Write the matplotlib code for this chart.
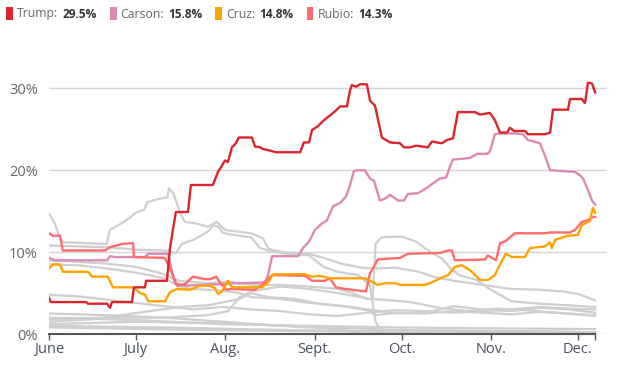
import numpy as np
import matplotlib
matplotlib.use("Agg")
import matplotlib.pyplot as plt
from matplotlib.patches import Rectangle

plt.rcParams['font.family'] = ['Open Sans', 'DejaVu Sans']

# days since June 1 2015, poll average in %
trump_x = [0, 0.7, 12.8, 13.5, 20.1, 21.1, 21.8, 28.7, 29.4, 33.2, 33.6, 40.8, 41.9, 43.9, 48.1, 49.1,
           56.7, 58.5, 59.9, 60.9, 61.9, 63.3, 64.7, 65.7, 70.2, 71.3, 73.0, 74.0, 76.5, 78.5, 86.9, 88.2,
           90.0, 91.0, 93.1, 94.5, 95.8, 97.6, 99.3, 100.7, 103.1, 104.2, 104.8, 106.2, 107.6, 110.0,
           111.1, 112.8, 115.2, 118.0, 121.5, 122.8, 124.9, 127.0, 131.1, 132.5, 136.0, 137.7, 139.8,
           141.5, 147.4, 149.1, 152.6, 154.3, 156.1, 158.5, 159.5, 160.9, 164.7, 165.7, 171.6, 173.4,
           174.4, 179.6, 180.3, 184.4, 185.5, 186.5, 187.9, 189]
trump_y = [4.4, 3.9, 3.9, 3.7, 3.7, 3.2, 3.9, 3.9, 5.7, 5.7, 6.5, 6.5, 10.6, 14.9, 14.9, 18.2,
           18.2, 19.8, 20.6, 21.2, 21.0, 22.8, 23.3, 24.0, 24.0, 22.9, 22.8, 22.6, 22.4, 22.2, 22.2, 23.4,
           23.4, 24.9, 25.4, 25.9, 26.3, 26.8, 27.3, 27.8, 27.8, 29.8, 30.4, 30.2, 30.5, 30.5,
           28.5, 27.9, 24.0, 23.4, 23.3, 22.8, 22.8, 23.0, 22.8, 23.5, 23.3, 23.7, 23.9,
           27.1, 27.1, 26.8, 27.0, 26.1, 24.6, 24.6, 25.2, 24.8, 24.8, 24.4, 24.4, 24.6,
           27.4, 27.4, 28.7, 28.7, 28.2, 30.7, 30.6, 29.5]

carson_x = [0, 2.1, 20.1, 21.1, 22.8, 33.2, 34.3, 41.2, 42.2, 43.6, 47.1, 52.2, 60.9, 63.7, 66.1, 74.7,
            75.8, 77.2, 86.2, 87.9, 90.0, 92.0, 94.1, 96.2, 98.3, 100.7, 102.8, 104.2, 105.5, 106.6,
            109.3, 111.1, 112.5, 114.5, 116.6, 118.0, 120.8, 122.8, 124.2, 127.7, 130.1, 132.9, 135.3,
            137.4, 138.8, 139.8, 145.7, 148.1, 151.6, 152.6, 154.3, 156.1, 161.2, 164.0, 165.7, 169.9,
            171.6, 173.4, 182.0, 183.7, 184.8, 186.5, 187.9, 189]
carson_y = [9.3, 9.0, 9.0, 9.5, 9.4, 9.4, 9.8, 9.8, 8.2, 6.2, 5.9, 6.0, 6.1, 6.2, 6.2, 6.3,
            7.2, 9.5, 9.5, 10.5, 11.3, 12.7, 13.4, 13.9, 15.6, 16.0, 16.8, 18.2, 19.9, 20.0,
            20.0, 19.0, 18.7, 16.3, 16.6, 17.0, 16.3, 16.3, 17.1, 17.2, 17.7, 18.4, 19.0,
            19.1, 20.5, 21.3, 21.5, 22.0, 22.0, 22.3, 24.4, 24.5, 24.5, 24.4, 23.7, 23.3,
            21.8, 20.0, 19.8, 19.4, 19.0, 17.6, 16.3, 15.8]

cruz_x = [0, 1.4, 3.8, 4.8, 13.5, 14.9, 20.4, 22.1, 29.1, 31.5, 33.2, 34.3, 40.1, 41.9, 44.3, 48.8,
          52.2, 55.7, 57.4, 58.5, 59.9, 61.9, 63.3, 73.7, 75.8, 77.5, 88.6, 91.0, 93.8, 97.2, 109.3,
          111.1, 113.8, 116.3, 119.7, 121.5, 130.1, 132.5, 135.3, 138.1, 140.5, 142.9, 145.7, 147.8,
          149.1, 151.9, 154.3, 156.1, 158.1, 160.2, 164.7, 166.4, 171.6, 173.4, 174.0, 175.1, 179.6,
          183.0, 184.4, 187.2, 188.2, 189]
cruz_y = [8.0, 8.5, 8.5, 7.6, 7.6, 7.0, 7.0, 5.7, 5.7, 5.0, 4.8, 4.0, 4.0, 5.1, 5.5, 5.4,
          5.9, 5.9, 5.6, 4.9, 5.2, 6.5, 5.7, 5.7, 6.3, 7.3, 7.3, 7.0, 7.1, 6.8, 6.8,
          6.5, 6.0, 6.2, 6.2, 6.0, 6.0, 6.3, 6.8, 7.2, 8.2, 8.4, 7.8, 7.1,
          6.6, 6.6, 7.2, 8.5, 9.8, 9.4, 9.4, 10.5, 10.7, 11.2, 10.5, 11.5, 12.0,
          12.1, 13.3, 13.8, 15.4, 14.8]

rubio_x = [0, 1.4, 3.8, 4.8, 19.4, 21.1, 25.3, 29.1, 29.4, 40.1, 41.9, 44.3, 47.1, 49.8, 54.0, 55.7,
           57.8, 59.2, 61.2, 63.3, 71.3, 73.7, 75.8, 77.2, 88.6, 91.0, 95.5, 97.2, 99.3, 102.4, 109.7,
           111.1, 113.8, 121.5, 124.2, 135.3, 138.1, 139.4, 140.5, 150.9, 151.9, 153.3, 154.7, 156.1,
           157.8, 159.5, 161.2, 171.6, 173.4, 180.3, 182.0, 184.4, 186.5, 188.2, 189]
rubio_y = [12.3, 12.0, 12.0, 10.2, 10.2, 10.6, 11.0, 11.1, 9.4, 9.3, 8.0, 5.9, 6.1, 7.0, 6.7, 6.7,
           7.0, 6.3, 5.4, 5.5, 5.4, 6.0, 6.7, 7.2, 7.1, 6.5, 6.5, 6.8, 5.7, 5.5, 5.2,
           7.4, 9.1, 9.3, 9.8, 9.9, 10.2, 10.2, 9.0, 9.1, 9.6, 9.3, 9.0, 11.1,
           11.3, 11.8, 12.3, 12.3, 12.4, 12.4, 12.7, 13.7, 13.9, 14.3, 14.3]

# other candidates, drawn in gray
bush_x = [0, 2, 4, 5, 20, 21, 25, 28, 30, 33, 34, 38, 41, 41.5, 43, 44, 45.5, 47, 51, 55, 58, 61, 70, 74,
          76, 81, 90, 96, 101, 108, 113, 120, 128, 133, 140, 150, 160, 170, 178, 183, 189]
bush_y = [14.7, 13.5, 11.5, 11.2, 11.0, 12.7, 13.5, 14.2, 14.8, 15.2, 16.1, 16.5, 16.7, 17.8, 17.2, 16.2,
          14.7, 13.7, 13.5, 13.1, 13.7, 12.7, 12.3, 11.7, 10.4, 10.0, 9.8, 9.2, 8.6, 8.1, 8.0, 8.1, 7.6,
          7.0, 6.5, 6.0, 5.5, 5.4, 5.2, 4.9, 4.1]
walker_x = [0, 20, 30, 40, 44, 46, 50, 55, 57, 59, 60, 62, 70, 73, 76, 82, 90, 95, 100, 107, 111, 113,
            115, 189]
walker_y = [10.8, 10.6, 10.3, 10.2, 9.9, 11.0, 11.5, 12.5, 13.3, 13.0, 12.4, 12.2, 11.8, 10.5, 10.2, 9.8,
            9.6, 8.2, 7.6, 7.2, 6.0, 1.5, 0.4, 0.2]
huckabee_x = [0, 10, 20, 30, 38, 45, 55, 62, 70, 80, 90, 100, 105, 110, 115, 125, 135, 145, 155, 165, 175, 189]
huckabee_y = [9.0, 8.8, 8.6, 8.2, 7.5, 6.5, 6.2, 6.4, 6.0, 6.0, 5.8, 5.5, 5.0, 4.3, 4.2, 3.9, 3.2, 2.8,
              3.1, 2.9, 2.6, 2.2]
paul_x = [0, 10, 20, 30, 40, 45, 50, 60, 66, 70, 80, 90, 100, 110, 113, 120, 130, 140, 150, 160, 170, 180, 189]
paul_y = [8.5, 8.4, 8.0, 7.5, 6.8, 5.8, 5.5, 5.3, 5.0, 4.5, 4.3, 3.8, 3.5, 2.9, 2.3, 2.6, 2.5, 2.8, 2.6,
          2.4, 2.7, 2.5, 2.3]
christie_x = [0, 10, 20, 30, 40, 50, 60, 70, 80, 90, 100, 110, 120, 130, 140, 150, 160, 170, 180, 189]
christie_y = [4.8, 4.6, 4.2, 3.8, 3.4, 3.0, 3.3, 3.0, 2.8, 2.4, 2.2, 2.6, 2.9, 2.8, 2.6, 2.8, 3.0, 3.3,
              3.1, 3.0]
kasich_x = [0, 15, 25, 35, 45, 55, 62, 66, 70, 76, 85, 95, 105, 110, 115, 120, 130, 140, 150, 160, 170, 180, 189]
kasich_y = [1.5, 1.8, 2.3, 2.8, 3.3, 3.5, 4.0, 4.3, 5.0, 4.5, 4.3, 3.6, 3.3, 3.0, 2.8, 2.5, 2.6, 3.4,
            3.0, 2.8, 3.2, 3.0, 2.6]
fiorina_x = [0, 20, 40, 55, 62, 66, 70, 80, 90, 100, 108, 112, 113, 115, 122, 127, 130, 133, 136, 139,
             142, 148, 152, 160, 170, 180, 189]
fiorina_y = [1.8, 2.0, 2.0, 2.3, 2.8, 4.5, 5.2, 5.8, 5.5, 5.0, 4.5, 4.2, 11.0, 11.8, 11.9, 11.3, 10.5,
             9.8, 9.2, 8.0, 7.2, 6.6, 5.6, 4.0, 3.7, 3.5, 3.3]
perry_x = [0, 20, 40, 60, 80, 100, 105, 189]
perry_y = [2.5, 2.3, 2.0, 1.5, 1.0, 0.6, 0.3, 0.2]
santorum_x = [0, 30, 60, 90, 120, 150, 189]
santorum_y = [2.0, 1.7, 1.2, 1.0, 0.8, 0.7, 0.6]
jindal_x = [0, 30, 60, 90, 120, 150, 180, 189]
jindal_y = [1.2, 1.5, 1.3, 0.9, 0.5, 0.4, 0.3, 0.2]
graham_x = [0, 40, 80, 120, 189]
graham_y = [1.0, 0.8, 0.5, 0.3, 0.2]
pataki_x = [0, 50, 100, 189]
pataki_y = [0.8, 0.5, 0.3, 0.1]

month_names = ["June", "July", "Aug.", "Sept.", "Oct.", "Nov.", "Dec."]
month_starts = np.array(["2015-06-01", "2015-07-01", "2015-08-01", "2015-09-01",
                         "2015-10-01", "2015-11-01", "2015-12-01"], dtype="datetime64[D]")
last_day = np.datetime64("2015-12-07")

legend_names = ["Trump", "Carson", "Cruz", "Rubio"]
legend_values = ["29.5%", "15.8%", "14.8%", "14.3%"]
colors = ["#d9252b", "#dc8ab4", "#ffa300", "#ff6b6e"]
gray = "#cfcfcf"

W, H = 620, 369
fig = plt.figure(figsize=(W / 100, H / 100), dpi=100)
ax = fig.add_axes([49 / W, 1 - 334 / H, (607 - 49) / W, (334 - 72) / H])

tick_days = (month_starts - month_starts[0]).astype(int)
end_day = int((last_day - month_starts[0]).astype(int))

for v in [0, 10, 20, 30]:
    ax.axhline(v, color="#d6d6d6", lw=1, zorder=0)

grays = [(pataki_x, pataki_y), (graham_x, graham_y), (jindal_x, jindal_y), (santorum_x, santorum_y),
         (perry_x, perry_y), (kasich_x, kasich_y), (christie_x, christie_y), (paul_x, paul_y),
         (huckabee_x, huckabee_y), (fiorina_x, fiorina_y), (walker_x, walker_y), (bush_x, bush_y)]
for gx, gy in grays:
    ax.plot(gx, gy, color=gray, lw=1.6, zorder=1, solid_joinstyle="round")

ax.plot(carson_x, carson_y, color=colors[1], lw=1.7, zorder=3)
ax.plot(rubio_x, rubio_y, color=colors[3], lw=1.7, zorder=4)
ax.plot(cruz_x, cruz_y, color=colors[2], lw=1.7, zorder=5)
ax.plot(trump_x, trump_y, color=colors[0], lw=1.7, zorder=6)

ax.plot([0, end_day], [0, 0], color="#555555", lw=1.5, zorder=7, clip_on=False)

ax.set_xlim(0, 193.1)
ax.set_ylim(0, 32)
for s in ax.spines.values():
    s.set_visible(False)

ax.set_xticks(list(tick_days) + [end_day])
ax.set_xticklabels(month_names + [""])
ax.tick_params(axis="x", direction="out", length=4, width=1, color="#555555", pad=1.5,
               labelsize=10.5, labelcolor="#4a5060")
ax.set_yticks([0, 10, 20, 30])
ax.set_yticklabels(["0%", "10%", "20%", "30%"])
ax.tick_params(axis="y", length=0, pad=8, labelsize=10.5, labelcolor="#666666")

# legend row at the top
fig.canvas.draw()
renderer = fig.canvas.get_renderer()
x = 6
ytxt = 1 - 14 / H
for name, val, c in zip(legend_names, legend_values, colors):
    fig.add_artist(Rectangle((x / W, 1 - 20 / H), 7 / W, 13 / H, transform=fig.transFigure,
                             color=c, lw=0))
    t1 = fig.text((x + 11) / W, ytxt, name + ":", fontsize=8.8, color="#666666", va="center")
    bb = t1.get_window_extent(renderer)
    t2 = fig.text((bb.x1 + 4) / W, ytxt, val, fontsize=8.6, color="#333333",
                  fontweight="bold", va="center")
    bb2 = t2.get_window_extent(renderer)
    x = bb2.x1 + 13

fig.savefig("out.png", dpi=100)
